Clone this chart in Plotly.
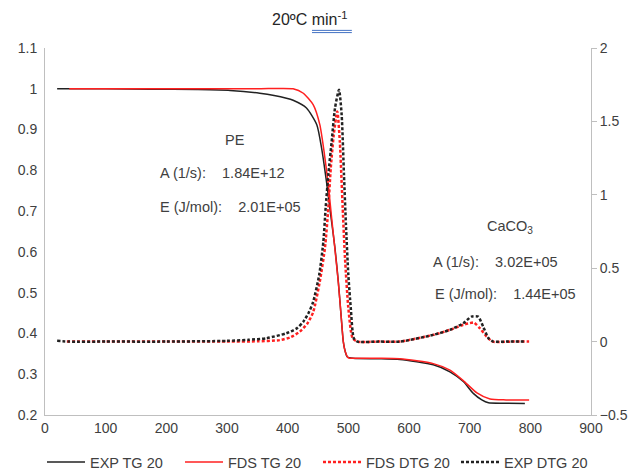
import plotly.graph_objects as go

# ---- data ----
exp_tg_x = [20, 100, 173, 250, 305, 354, 398, 409, 431, 448, 456, 464, 471, 478, 483.5, 488, 491.7, 495, 498, 508,
            550, 585, 640, 667.5, 689.5, 706, 720, 731, 760, 791]
exp_tg_y = [1.0, 1.0, 0.999, 0.998, 0.996, 0.989, 0.977, 0.972, 0.953, 0.912, 0.854, 0.772, 0.69, 0.609, 0.527, 0.445, 0.38, 0.355, 0.343, 0.339,
            0.338, 0.336, 0.323, 0.306, 0.282, 0.253, 0.237, 0.23, 0.229, 0.228]

fds_tg_x = [40, 100, 200, 300, 354, 409, 425.8, 442, 453, 460, 467, 472.5, 478, 483.5, 488, 491.7, 495, 500, 508,
            550, 585, 640, 667.5, 689, 712, 733.5, 760, 798]
fds_tg_y = [1.0, 1.0, 1.0, 1.0, 1.0, 1.0, 0.989, 0.961, 0.912, 0.846, 0.764, 0.683, 0.605, 0.525, 0.445, 0.38, 0.355, 0.340, 0.339,
            0.339, 0.338, 0.326, 0.31, 0.285, 0.254, 0.239, 0.237, 0.237]

fds_dtg_x = [36, 100, 200, 300, 350, 387, 405, 420, 432, 442, 453, 461.5, 467, 471, 476, 481.8, 486, 490.7, 494.5, 500, 507, 515,
             550, 585, 640, 667.5, 689.5, 703, 707, 717, 728, 738, 770, 798]
fds_dtg_y = [0.0, 0.0, 0.0, 0.0, 0.002, 0.01, 0.03, 0.068, 0.12, 0.2, 0.41, 0.64, 0.91, 1.18, 1.41, 1.568, 1.36, 0.91, 0.57, 0.23, 0.023, 0.0,
             0.0, 0.0, 0.046, 0.08, 0.115, 0.128, 0.13, 0.09, 0.034, 0.0, 0.0, 0.0]

exp_dtg_x = [20, 40, 100, 200, 300, 335, 365, 398, 415, 425.8, 435, 442, 452, 458.8, 462.6, 467, 472.5, 478, 484.6, 489, 492.8, 496, 500, 504, 509, 515,
             550, 585, 640, 667.5, 689.5, 703, 714, 722.5, 731, 739, 760, 791]
exp_dtg_y = [0.005, 0.0, 0.0, 0.0, 0.005, 0.012, 0.023, 0.057, 0.09, 0.136, 0.2, 0.27, 0.455, 0.68, 0.91, 1.136, 1.363, 1.59, 1.716, 1.545, 1.136, 0.8, 0.455, 0.23, 0.023, 0.0,
             0.0, 0.0, 0.046, 0.08, 0.125, 0.17, 0.17, 0.1, 0.023, 0.0, 0.0, 0.0]

series_names = ["EXP TG 20", "FDS TG 20", "FDS DTG 20", "EXP DTG 20"]
x_ticks = [0, 100, 200, 300, 400, 500, 600, 700, 800, 900]

TXT = "#404040"
AX = "#BFBFBF"
FONT = "Liberation Sans, Arial, sans-serif"

fig = go.Figure()
fig.add_trace(go.Scatter(x=exp_tg_x, y=exp_tg_y, name=series_names[0], mode="lines",
                         line=dict(color="#222222", width=1.5, shape="spline", smoothing=0.6)))
fig.add_trace(go.Scatter(x=fds_tg_x, y=fds_tg_y, name=series_names[1], mode="lines",
                         line=dict(color="#FF2020", width=1.5, shape="spline", smoothing=0.6)))
fig.add_trace(go.Scatter(x=fds_dtg_x, y=fds_dtg_y, name=series_names[2], mode="lines", yaxis="y2",
                         line=dict(color="#FF2020", width=2.5, dash="3px,2px", shape="spline", smoothing=0.6)))
fig.add_trace(go.Scatter(x=exp_dtg_x, y=exp_dtg_y, name=series_names[3], mode="lines", yaxis="y2",
                         line=dict(color="#222222", width=2.5, dash="3px,2px", shape="spline", smoothing=0.6)))

annos = [
    dict(x=313, y=0.875, text="PE", xanchor="center"),
    dict(x=187, y=0.794, text="A (1/s):    1.84E+12", xanchor="left"),
    dict(x=187, y=0.71, text="E (J/mol):    2.01E+05", xanchor="left"),
    dict(x=766.5, y=0.661, text="CaCO<sub>3</sub>", xanchor="center"),
    dict(x=637, y=0.575, text="A (1/s):    3.02E+05", xanchor="left"),
    dict(x=640, y=0.497, text="E (J/mol):    1.44E+05", xanchor="left"),
]
for a in annos:
    fig.add_annotation(xref="x", yref="y", showarrow=False, yanchor="middle",
                       font=dict(family=FONT, size=14.5, color=TXT), **a)

fig.update_layout(
    width=632, height=473,
    margin=dict(l=45, r=41, t=48, b=58, autoexpand=False),
    paper_bgcolor="white", plot_bgcolor="white",
    title=dict(text="20ºC min<sup>-1</sup>", x=0.49, xanchor="center", y=0.958, yanchor="middle",
               font=dict(family=FONT, size=16, color="#262626")),
    xaxis=dict(range=[0, 900], tickvals=x_ticks, showgrid=False, zeroline=False, automargin=False,
               showline=True, linecolor=AX, linewidth=1, ticks="",
               tickfont=dict(family=FONT, size=14, color=TXT)),
    yaxis=dict(range=[0.2, 1.1], dtick=0.1, showgrid=False, zeroline=False, automargin=False,
               showline=True, linecolor=AX, linewidth=1, ticks="", tickformat="~g",
               ticklabelstandoff=4,
               tickfont=dict(family=FONT, size=14, color=TXT)),
    yaxis2=dict(range=[-0.5, 2], dtick=0.5, overlaying="y", side="right", showgrid=False, zeroline=False,
                automargin=False,
                showline=True, linecolor=AX, linewidth=1, ticks="outside", ticklen=5, tickcolor=AX,
                tickformat="~g", tickfont=dict(family=FONT, size=14, color=TXT)),
    legend=dict(orientation="h", x=-0.0055, xanchor="left", y=-0.128, yanchor="middle",
                itemwidth=38, entrywidth=85,
                font=dict(family=FONT, size=14.5, color=TXT), traceorder="normal"),
    showlegend=True,
)

# blue double underline under "min-1" in the title
for yy in (1.048, 1.042):
    fig.add_shape(type="line", xref="paper", yref="paper", x0=0.489, x1=0.562, y0=yy, y1=yy,
                  line=dict(color="#4472C4", width=1))

fig.write_html("out.html", config={"displayModeBar": False},
               post_script="document.body.style.margin='0';document.body.style.overflow='hidden';")
